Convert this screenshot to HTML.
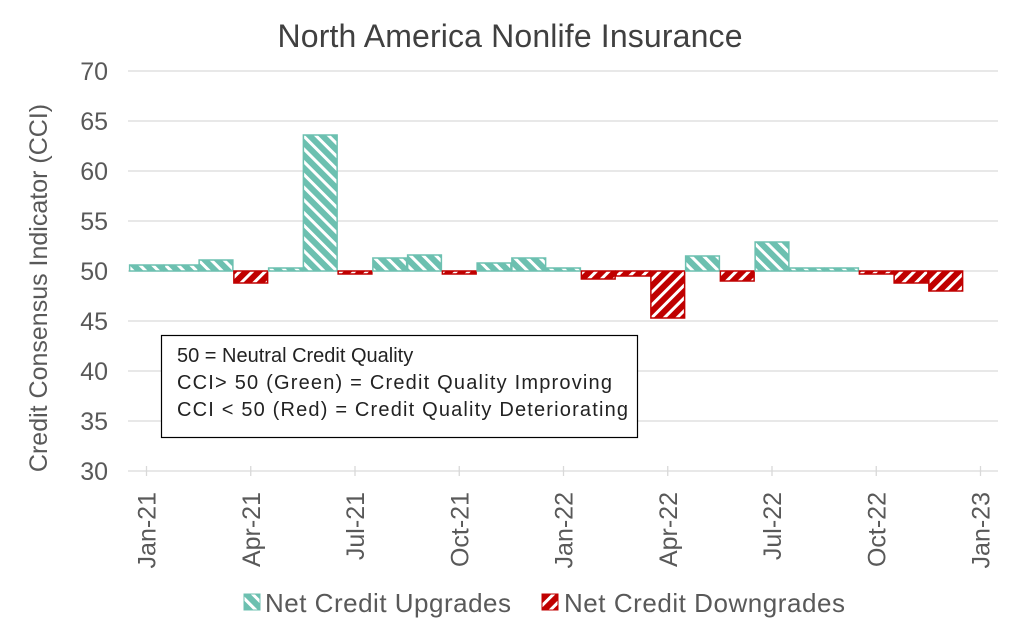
<!DOCTYPE html>
<html><head><meta charset="utf-8"><style>
html,body{margin:0;padding:0;background:#fff;}
svg{display:block;font-family:"Liberation Sans",Arial,sans-serif;}
</style></head><body>
<svg id="chart" width="1024" height="640" viewBox="0 0 1024 640">
<defs>
<pattern id="hatchG" patternUnits="userSpaceOnUse" width="9" height="9" patternTransform="rotate(-45)">
<rect width="9" height="9" fill="#6cc0b0"/><rect x="0" y="0" width="3" height="9" fill="#fff"/>
</pattern>
<pattern id="hatchR" patternUnits="userSpaceOnUse" width="9" height="9" patternTransform="rotate(45)">
<rect width="9" height="9" fill="#c00000"/><rect x="0" y="0" width="3" height="9" fill="#fff"/>
</pattern>
</defs>
<text x="510" y="47" text-anchor="middle" font-size="32" fill="#404040" textLength="465">North America Nonlife Insurance</text>
<text transform="translate(47,288) rotate(-90)" text-anchor="middle" font-size="25" fill="#595959">Credit Consensus Indicator (CCI)</text>
<g id="grid"></g>
<g id="bars"></g>
<g id="xaxis"></g>
<g>
<rect x="161.5" y="335.5" width="476" height="102" fill="#fff" stroke="#000" stroke-width="1.2"/>
<text x="177" y="362" font-size="20" fill="#222">50 = Neutral Credit Quality</text>
<text x="177" y="389" font-size="20" fill="#222" textLength="435">CCI&gt; 50 (Green) = Credit Quality Improving</text>
<text x="177" y="416" font-size="20" fill="#222" textLength="451">CCI &lt; 50 (Red) = Credit Quality Deteriorating</text>
</g>
<g>
<g>
<rect x="244" y="594" width="16" height="16" fill="url(#hatchG)" stroke="#6cc0b0"/>
<text x="265" y="612" font-size="26" fill="#595959" textLength="246">Net Credit Upgrades</text>
</g>
<g>
<rect x="542" y="594" width="16" height="16" fill="url(#hatchR)" stroke="#c00000"/>
<text x="564" y="612" font-size="26" fill="#595959" textLength="281">Net Credit Downgrades</text>
</g>
</g>
</svg>
<script>
const months = ["Jan-21","Feb-21","Mar-21","Apr-21","May-21","Jun-21","Jul-21","Aug-21","Sep-21","Oct-21","Nov-21","Dec-21","Jan-22","Feb-22","Mar-22","Apr-22","May-22","Jun-22","Jul-22","Aug-22","Sep-22","Oct-22","Nov-22","Dec-22"];
const cciValues = [50.6,50.6,51.1,48.8,50.3,63.6,49.7,51.3,51.6,49.7,50.8,51.3,50.3,49.2,49.5,45.3,51.5,49.0,52.9,50.3,50.3,49.7,48.8,48.0];
const yTicks = [30,35,40,45,50,55,60,65,70];
const xTickLabels = ["Jan-21","Apr-21","Jul-21","Oct-21","Jan-22","Apr-22","Jul-22","Oct-22","Jan-23"];

const NS="http://www.w3.org/2000/svg";
const plotL=128, plotR=998, yTop=71, yBot=471, yMin=30, yMax=70;
const firstCenter=146.5, step=34.75, baseline=50;
function yScale(v){return yBot-(v-yMin)/(yMax-yMin)*(yBot-yTop);}
function xScale(i){return firstCenter+i*step;}
function mk(tag,attrs,parent){const e=document.createElementNS(NS,tag);for(const k in attrs)e.setAttribute(k,attrs[k]);parent.appendChild(e);return e;}

const grid=document.getElementById('grid');
yTicks.forEach(t=>{
  const y=yScale(t);
  const l=mk('line',{x1:plotL,x2:plotR,y1:y,y2:y,stroke:'#d9d9d9','stroke-width':1.3},grid);
  
  
  const tx=mk('text',{x:108,y:y+9,'text-anchor':'end','font-size':25,fill:'#595959'},grid);
  tx.textContent=t;
  
  
});

const bars=document.getElementById('bars');
cciValues.forEach((v,i)=>{
  const up=v>=baseline;
  const y0=yScale(baseline), y1=yScale(v);
  const r=mk('rect',{x:xScale(i)-step/2+0.5,y:Math.min(y0,y1),width:step-1,height:Math.max(1,Math.abs(y1-y0)),
    fill:up?'url(#hatchG)':'url(#hatchR)',stroke:up?'#6cc0b0':'#c00000','stroke-width':1.5},bars);
  
  
});

const xa=document.getElementById('xaxis');
xTickLabels.forEach((lab,j)=>{
  const x=xScale(j*3);
  const tk=mk('line',{x1:x,x2:x,y1:yBot-5,y2:yBot+5,stroke:'#d9d9d9','stroke-width':1.3},xa);
  
  
  const tx=mk('text',{transform:'translate('+(x+9)+',492) rotate(-90)','text-anchor':'end','font-size':25,fill:'#595959'},xa);
  tx.textContent=lab;
  
  
});
</script>
</body></html>
